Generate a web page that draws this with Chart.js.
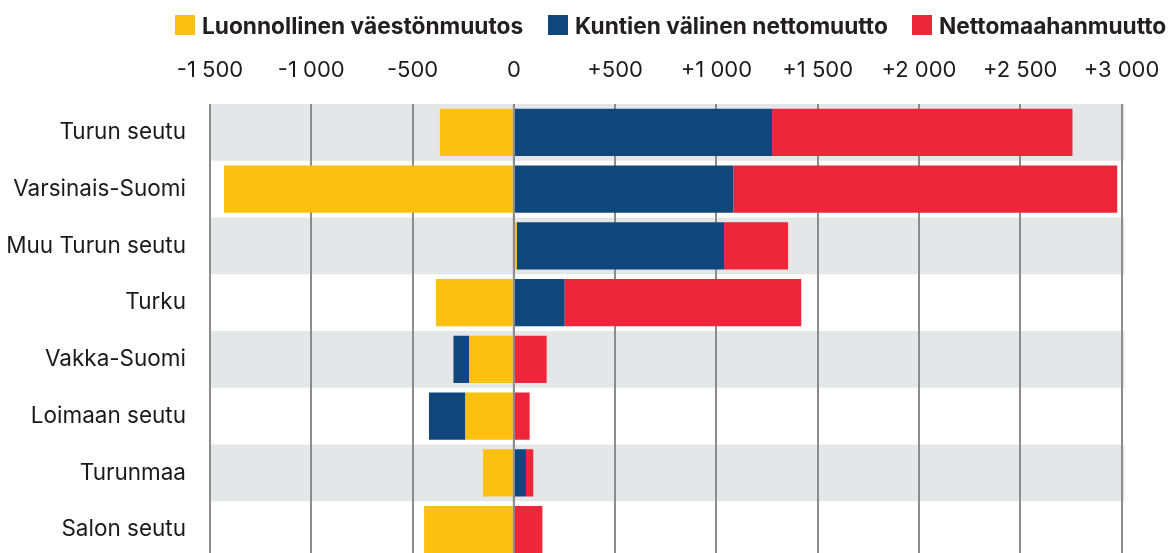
<!DOCTYPE html>
<html lang="fi">
<head>
<meta charset="utf-8">
<script src="https://cdn.jsdelivr.net/npm/chart.js@4"></script>
<style>
  html, body { margin: 0; padding: 0; background: #fff; overflow: hidden; }
  #wrap { position: relative; width: 1168px; height: 558px; }
  #legend { position: absolute; left: 0; top: 0; width: 1168px; height: 50px; font-family: Inter, sans-serif; font-weight: 700; font-size: 22.7px; color: #231f20; }
  .item { position: absolute; top: 15px; display: flex; align-items: center; height: 20px; white-space: nowrap; }
  .box { width: 20px; height: 20px; margin-right: 7px; flex: none; }
</style>
</head>
<body>
<div id="wrap">
  <canvas id="chart" width="1168" height="558"></canvas>
  <div id="legend"></div>
</div>
<script>
const categories = ['Turun seutu', 'Varsinais-Suomi', 'Muu Turun seutu', 'Turku', 'Vakka-Suomi', 'Loimaan seutu', 'Turunmaa', 'Salon seutu'];
const seriesNames = ['Luonnollinen väestönmuutos', 'Kuntien välinen nettomuutto', 'Nettomaahanmuutto'];
const luonnollinen = [-365, -1431, 15, -384, -221, -239, -152, -443];
const kuntienValinen = [1275, 1084, 1023, 251, -77, -180, 60, 0];
const nettomaahanmuutto = [1483, 1895, 316, 1168, 162, 78, 36, 141];
const xTicks = [-1500, -1000, -500, 0, 500, 1000, 1500, 2000, 2500, 3000];

const colors = ['#fcc010', '#0f477d', '#ee2639'];
const gridColor = '#8c8c8c';

function fmt(v) {
  const s = Math.abs(v).toString().replace(/\B(?=(\d{3})+(?!\d))/g, ' ');
  return v > 0 ? '+' + s : v < 0 ? '-' + s : '0';
}

// legend as html
const legendLeft = [175, 548, 912];
const legend = document.getElementById('legend');
seriesNames.forEach((name, i) => {
  const el = document.createElement('div');
  el.className = 'item';
  el.style.left = legendLeft[i] + 'px';
  el.innerHTML = `<span class="box" style="background:${colors[i]}"></span><span>${name}</span>`;
  legend.appendChild(el);
});

// gray bands behind every other row, zero line on top of bars
const bandsPlugin = {
  id: 'bands',
  beforeDraw(chart) {
    const {ctx, chartArea, scales: {y}} = chart;
    const h = Math.abs(y.getPixelForValue(1) - y.getPixelForValue(0));
    ctx.save();
    ctx.fillStyle = '#e5e6e8';
    categories.forEach((c, i) => {
      if (i % 2 === 0) {
        const cy = y.getPixelForValue(i);
        ctx.fillRect(chartArea.left - 1, cy - h / 2, chartArea.right - chartArea.left + 4, h);
      }
    });
    ctx.restore();
  },
  afterDatasetsDraw(chart) {
    const {ctx, chartArea, scales: {x}} = chart;
    const px = x.getPixelForValue(0);
    ctx.save();
    ctx.strokeStyle = gridColor;
    ctx.lineWidth = 2;
    ctx.beginPath();
    ctx.moveTo(px, chartArea.top);
    ctx.lineTo(px, chartArea.bottom);
    ctx.stroke();
    ctx.restore();
  }
};

Chart.defaults.font.family = 'Inter, sans-serif';
Chart.defaults.color = '#1a1a1a';

new Chart(document.getElementById('chart'), {
  type: 'bar',
  data: {
    labels: categories,
    datasets: [
      {label: seriesNames[0], data: luonnollinen, backgroundColor: colors[0]},
      {label: seriesNames[1], data: kuntienValinen, backgroundColor: colors[1]},
      {label: seriesNames[2], data: nettomaahanmuutto, backgroundColor: colors[2]}
    ]
  },
  options: {
    indexAxis: 'y',
    responsive: false,
    animation: false,
    categoryPercentage: 1,
    barPercentage: 0.83,
    layout: {padding: {left: 0, right: 46.5, top: 0, bottom: 0}},
    plugins: {legend: {display: false}, tooltip: {enabled: false}},
    scales: {
      x: {
        position: 'top',
        stacked: true,
        min: -1500,
        max: 3000,
        afterBuildTicks(scale) { scale.ticks = xTicks.map(v => ({value: v})); },
        afterFit(scale) {
          scale.height = 104;
          scale.paddingLeft = 0;
          scale.paddingRight = 0;
        },
        border: {display: false},
        grid: {color: gridColor, lineWidth: 2, drawTicks: false},
        ticks: {padding: 20, font: {size: 22}, color: '#1a1a1a', callback: v => fmt(v)}
      },
      y: {
        stacked: true,
        afterFit(scale) {
          scale.width = 210;
          scale.paddingTop = 0;
          scale.paddingBottom = 0;
        },
        border: {display: false},
        grid: {display: false, drawTicks: false},
        ticks: {padding: 24, font: {size: 22.5}, color: '#1a1a1a'}
      }
    }
  },
  plugins: [bandsPlugin]
});
</script>
</body>
</html>
